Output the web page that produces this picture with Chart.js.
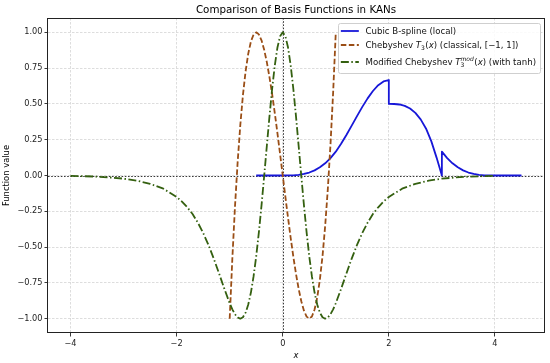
<!DOCTYPE html>
<html><head><meta charset="utf-8">
<script src="https://cdn.jsdelivr.net/npm/chart.js@4.4.1/dist/chart.umd.min.js"></script>
<style>html,body{margin:0;padding:0;background:#fff;overflow:hidden;}</style>
</head><body>
<canvas id="c" width="550" height="363" style="display:block;width:550px;height:363px"></canvas>
<script>
// ---------- data ----------
const chartTitle = 'Comparison of Basis Functions in KANs';
const xAxisTitle = 'x';
const yAxisTitle = 'Function value';
const xTickValues = [-4, -2, 0, 2, 4];
const yTickValues = [-1, -0.75, -0.5, -0.25, 0, 0.25, 0.5, 0.75, 1];
const xRange = [-4.425, 4.925];
const yRange = [-1.1, 1.1];

// Cubic B-spline (local)
const splineX = [-0.5, 0, 0.1, 0.2, 0.3, 0.4, 0.5, 0.6, 0.7, 0.8, 0.9, 1.0,
  1.1, 1.2, 1.3, 1.4, 1.5, 1.6, 1.7, 1.8, 1.9, 2.0,
  2.0, 2.1, 2.2, 2.3, 2.4, 2.5, 2.6, 2.7, 2.8, 2.9, 3.0,
  3.0, 3.1, 3.2, 3.3, 3.4, 3.5, 3.6, 3.7, 3.8, 3.9, 4.0, 4.5];
const splineY = [0, 0, 0.0002, 0.0013, 0.0045, 0.0107, 0.0208, 0.036, 0.0572, 0.0853, 0.1215, 0.1667,
  0.2212, 0.2827, 0.3482, 0.4147, 0.4792, 0.5387, 0.5902, 0.6307, 0.6572, 0.6667,
  0.5, 0.4995, 0.496, 0.4865, 0.468, 0.4375, 0.392, 0.3285, 0.24, 0.125, 0.0,
  0.1667, 0.1215, 0.0853, 0.0572, 0.036, 0.0208, 0.0107, 0.0045, 0.0013, 0.0002, 0, 0];

// Chebyshev T3(x) on [-1, 1]
const chebX = [-1, -0.95, -0.9, -0.85, -0.8, -0.75, -0.7, -0.65, -0.6, -0.55, -0.5, -0.45, -0.4, -0.35, -0.3, -0.25, -0.2, -0.15, -0.1, -0.05,
  0, 0.05, 0.1, 0.15, 0.2, 0.25, 0.3, 0.35, 0.4, 0.45, 0.5, 0.55, 0.6, 0.65, 0.7, 0.75, 0.8, 0.85, 0.9, 0.95, 1];
const chebY = [-1, -0.5795, -0.216, 0.0935, 0.352, 0.5625, 0.728, 0.8515, 0.936, 0.9845, 1.0, 0.9855, 0.944, 0.8785, 0.792, 0.6875, 0.568, 0.4365, 0.296, 0.1495,
  0, -0.1495, -0.296, -0.4365, -0.568, -0.6875, -0.792, -0.8785, -0.944, -0.9855, -1.0, -0.9845, -0.936, -0.8515, -0.728, -0.5625, -0.352, -0.0935, 0.216, 0.5795, 1];

// Modified Chebyshev (with tanh)
const modX = [-4, -3.75, -3.5, -3.25, -3, -2.75, -2.5, -2.25, -2, -1.9, -1.8, -1.7, -1.6, -1.5, -1.4, -1.3, -1.2, -1.1,
  -1, -0.95, -0.9, -0.85, -0.8, -0.75, -0.7, -0.65, -0.6, -0.55, -0.5, -0.45, -0.4, -0.35, -0.3, -0.25, -0.2, -0.15, -0.1, -0.05,
  0, 0.05, 0.1, 0.15, 0.2, 0.25, 0.3, 0.35, 0.4, 0.45, 0.5, 0.55, 0.6, 0.65, 0.7, 0.75, 0.8, 0.85, 0.9, 0.95, 1,
  1.1, 1.2, 1.3, 1.4, 1.5, 1.6, 1.7, 1.8, 1.9, 2, 2.25, 2.5, 2.75, 3, 3.25, 3.5, 3.75, 4];
const modY = [-0.003, -0.005, -0.008, -0.014, -0.022, -0.036, -0.058, -0.092, -0.150, -0.182, -0.222, -0.269, -0.3295, -0.4013, -0.4851, -0.5804, -0.6846, -0.7919,
  -0.8922, -0.9349, -0.9691, -0.9919, -1.0, -0.9898, -0.958, -0.9014, -0.8175, -0.7051, -0.5644, -0.3975, -0.2086, -0.0045, 0.2062, 0.413, 0.604, 0.7679, 0.8938, 0.9729,
  1.0, 0.9729, 0.8938, 0.7679, 0.604, 0.413, 0.2062, -0.0045, -0.2086, -0.3975, -0.5644, -0.7051, -0.8175, -0.9014, -0.958, -0.9898, -1.0, -0.9919, -0.9691, -0.9349, -0.8922,
  -0.7919, -0.6846, -0.5804, -0.4851, -0.4013, -0.3295, -0.269, -0.222, -0.182, -0.150, -0.092, -0.058, -0.036, -0.022, -0.014, -0.008, -0.005, -0.003];

// legend label runs (plain / italic / subscript with optional superscript)
const legendLabels = [
  [{t: 'Cubic B-spline (local)'}],
  [{t: 'Chebyshev '}, {t: 'T', i: 1}, {t: '3', sub: 1}, {t: '('}, {t: 'x', i: 1}, {t: ')'}, {t: ' (classical, [\u22121, 1])'}],
  [{t: 'Modified Chebyshev '}, {t: 'T', i: 1}, {t: '3', sub: 1, sup: 'mod'}, {t: '('}, {t: 'x', i: 1}, {t: ')'}, {t: ' (with tanh)'}]
];

// ---------- styles ----------
const FONT = '"DejaVu Sans", "Liberation Sans", sans-serif';
const colors = ['#1717d8', '#9a4e16', '#346010'];
const dashes = [[], [5.5, 2.5], [8, 2.5, 1.5, 2.5]];
const LW = 1.8;

const zip = (xs, ys) => xs.map((v, k) => ({x: v, y: ys[k]}));
const minus = s => String(s).replace('-', '\u2212');

function drawRuns(ctx, runs, x, yMid, size, measureOnly) {
  const base = yMid + size * 0.36;
  let cx = x;
  for (const r of runs) {
    if (r.sub) {
      const ss = size * 0.7;
      ctx.font = `${ss}px ${FONT}`;
      const w1 = ctx.measureText(r.t).width;
      if (!measureOnly) ctx.fillText(r.t, cx, base + size * 0.2);
      let w2 = 0;
      if (r.sup) {
        ctx.font = `italic ${ss}px ${FONT}`;
        w2 = ctx.measureText(r.sup).width;
        if (!measureOnly) ctx.fillText(r.sup, cx, base - size * 0.42);
      }
      cx += Math.max(w1, w2) + size * 0.05;
    } else {
      ctx.font = `${r.i ? 'italic ' : ''}${size}px ${FONT}`;
      if (!measureOnly) ctx.fillText(r.t, cx, base);
      cx += ctx.measureText(r.t).width;
    }
  }
  return cx - x;
}

const overlay = {
  id: 'overlay',
  beforeDatasetsDraw(chart) {
    const {ctx, chartArea: a, scales: {x, y}} = chart;
    ctx.save();
    ctx.strokeStyle = '#222';
    ctx.lineWidth = 0.9;
    ctx.setLineDash([1.6, 1.6]);
    const py = Math.round(y.getPixelForValue(0)) + 0.5;
    ctx.beginPath(); ctx.moveTo(a.left, py); ctx.lineTo(a.right, py); ctx.stroke();
    const px = Math.round(x.getPixelForValue(0)) + 0.5;
    ctx.beginPath(); ctx.moveTo(px, a.top); ctx.lineTo(px, a.bottom); ctx.stroke();
    ctx.restore();
  },
  afterDraw(chart) {
    const {ctx, chartArea: a} = chart;
    ctx.save();
    // title, centred over the axes
    ctx.fillStyle = '#000';
    ctx.font = `10.3px ${FONT}`;
    ctx.textAlign = 'center';
    ctx.textBaseline = 'middle';
    ctx.fillText(chartTitle, (a.left + a.right) / 2, 10);
    ctx.textAlign = 'left';
    // axes box
    ctx.strokeStyle = '#222';
    ctx.lineWidth = 1;
    ctx.setLineDash([]);
    ctx.strokeRect(Math.round(a.left) - 0.5, Math.round(a.top) + 0.5, Math.round(a.right - a.left) + 1, Math.round(a.bottom - a.top) - 1);
    // legend
    const size = 8.6;
    let maxW = 0;
    ctx.textBaseline = 'alphabetic';
    legendLabels.forEach(r => { maxW = Math.max(maxW, drawRuns(ctx, r, 0, 0, size, true)); });
    const bw = 28 + maxW + 4, bh = 50;
    const bx = a.right - 4 - bw, by = a.top + 4.5;
    ctx.fillStyle = 'rgba(255,255,255,0.85)';
    ctx.strokeStyle = '#cfcfcf';
    ctx.lineWidth = 1;
    ctx.beginPath();
    ctx.roundRect(Math.round(bx) + 0.5, Math.round(by) + 0.5, Math.round(bw), bh, 2);
    ctx.fill(); ctx.stroke();
    const rows = [8.5, 22.5, 39.5];
    legendLabels.forEach((r, k) => {
      const yy = by + rows[k];
      ctx.strokeStyle = colors[k];
      ctx.lineWidth = LW;
      ctx.setLineDash(dashes[k]);
      ctx.beginPath(); ctx.moveTo(bx + 3.3, yy); ctx.lineTo(bx + 21.3, yy); ctx.stroke();
      ctx.setLineDash([]);
      ctx.fillStyle = '#111';
      drawRuns(ctx, r, bx + 28, yy, size, false);
    });
    ctx.restore();
  }
};

const tickFont = {family: FONT, size: 8.2};
new Chart(document.getElementById('c'), {
  type: 'line',
  data: {
    datasets: [
      {data: zip(splineX, splineY), borderColor: colors[0], borderDash: dashes[0], order: 3},
      {data: zip(chebX, chebY), borderColor: colors[1], borderDash: dashes[1], order: 2},
      {data: zip(modX, modY), borderColor: colors[2], borderDash: dashes[2], order: 1}
    ].map(d => Object.assign(d, {borderWidth: LW, pointRadius: 0, tension: 0, fill: false, borderCapStyle: 'butt', borderJoinStyle: 'round'}))
  },
  options: {
    responsive: false,
    animation: false,
    devicePixelRatio: 1,
    layout: {padding: {left: 0, right: 6, top: 18, bottom: 0}},
    plugins: {
      legend: {display: false},
      tooltip: {enabled: false},
      title: {display: false}
    },
    scales: {
      x: {
        type: 'linear', min: xRange[0], max: xRange[1],
        afterBuildTicks: s => { s.ticks = xTickValues.map(v => ({value: v})); },
        afterFit: s => { s.height = 30; },
        ticks: {color: '#222', font: tickFont, padding: 2, callback: v => minus(v), maxRotation: 0, autoSkip: false},
        grid: {color: '#d4d4d4', lineWidth: 0.8, tickColor: '#222', tickLength: 3.5, tickWidth: 0.9},
        border: {display: false, dash: [2.5, 1.5]},
        title: {display: true, text: xAxisTitle, color: '#000', font: {family: FONT, size: 8.4, style: 'italic'}, padding: {top: 0, bottom: 2}}
      },
      y: {
        type: 'linear', min: yRange[0], max: yRange[1],
        afterBuildTicks: s => { s.ticks = yTickValues.map(v => ({value: v})); },
        afterFit: s => { s.width = 48; },
        ticks: {color: '#222', font: tickFont, padding: 2, callback: v => minus(Number(v).toFixed(2)), autoSkip: false},
        grid: {color: '#d4d4d4', lineWidth: 0.8, tickColor: '#222', tickLength: 3.5, tickWidth: 0.9},
        border: {display: false, dash: [2.5, 1.5]},
        title: {display: true, text: yAxisTitle, color: '#000', font: {family: FONT, size: 8.4}, padding: {top: 2, bottom: 0}}
      }
    }
  },
  plugins: [overlay]
});
</script>
</body></html>
